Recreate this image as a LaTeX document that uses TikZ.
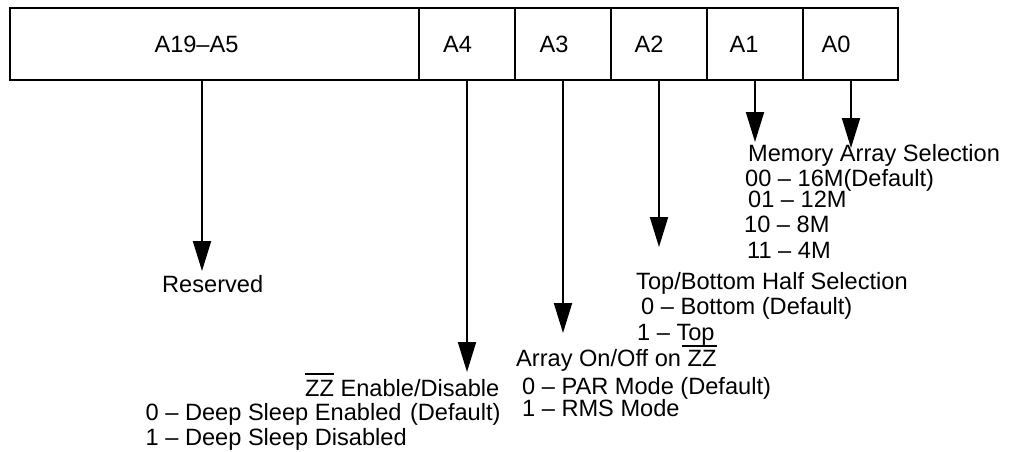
\documentclass[tikz,border=0pt]{standalone}
\usepackage{fontspec}
\setmainfont{Liberation Sans}
\usetikzlibrary{arrows.meta}
\newcommand\zzover[3]{\leavevmode\rlap{\kern#2\rule[#1]{#3}{1.6pt}}ZZ}
\begin{document}
\begin{tikzpicture}[x=1pt,y=-1pt,
  cell/.style={draw,line width=2pt,minimum height=72pt,inner sep=0pt,outer sep=0pt,anchor=north west},
  lbl/.style={inner sep=0pt,font=\fontsize{23.6}{27}\selectfont},
  txt/.style={lbl,anchor=base west},
  arr/.style={line width=2pt,-{Triangle[width=18pt,length=30pt]}}]
\fill[white] (0,0) rectangle (1010,452);
\useasboundingbox (0,0) rectangle (1010,452);
% register cells
\node[cell,minimum width=409pt] (c1) at (10,8) {};
\node[cell,minimum width=96pt] (c2) at (419,8) {};
\node[cell,minimum width=96pt] (c3) at (515,8) {};
\node[cell,minimum width=96pt] (c4) at (611,8) {};
\node[cell,minimum width=96pt] (c5) at (707,8) {};
\node[cell,minimum width=95pt] (c6) at (803,8) {};
% cell labels
\node[lbl,anchor=base] (l1) at (196.5,52.5) {A19–A5};
\node[lbl,anchor=base] (l2) at (457.5,52.5) {A4};
\node[lbl,anchor=base] (l3) at (554,52.5) {A3};
\node[lbl,anchor=base] (l4) at (649,52.5) {A2};
\node[lbl,anchor=base] (l5) at (744,52.5) {A1};
\node[lbl,anchor=base] (l6) at (836,52.5) {A0};
% arrow tips
\coordinate (t1) at (202,271);
\coordinate (t2) at (467,372);
\coordinate (t3) at (563,333);
\coordinate (t4) at (659,247);
\coordinate (t5) at (755,142);
\coordinate (t6) at (851,148);
\draw[arr] (t1 |- c1.south) -- (t1);
\draw[arr] (t2 |- c2.south) -- (t2);
\draw[arr] (t3 |- c3.south) -- (t3);
\draw[arr] (t4 |- c4.south) -- (t4);
\draw[arr] (t5 |- c5.south) -- (t5);
\draw[arr] (t6 |- c6.south) -- (t6);
% Reserved
\node[txt] (r1) at (162,292.7) {Reserved};
% Memory array selection
\node[txt] (m1) at (748,161.5) {Memory Array Selection};
\node[txt] (m2) at (745,186) {00 – 16M(Default)};
\node[txt] (m3) at (748,207.5) {01 – 12M};
\node[txt] (m4) at (744,232) {10 – 8M};
\node[txt] (m5) at (747,258) {11 – 4M};
% Top/Bottom
\node[txt] (h1) at (636,289) {Top/Bottom Half Selection};
\node[txt] (h2) at (641,314) {0 – Bottom (Default)};
\node[txt] (h3) at (637,340.5) {1 – Top};
% Array on/off
\node[txt] (a1) at (516,366.7) {Array On/Off on \zzover{19.9pt}{-6pt}{35pt}};
\node[txt] (a2) at (522,394.5) {0 – PAR Mode (Default)};
\node[txt] (a3) at (522,416.7) {1 – RMS Mode};
% ZZ enable
\node[lbl,anchor=base east] (z1) at (499.5,396) {\zzover{21.2pt}{0pt}{29pt} Enable/Disable};
\node[txt] (z2) at (145.5,420) {0 – Deep Sleep Enabled\ \hspace{2pt}(Default)};
\node[txt] (z3) at (145.5,445) {1 – Deep Sleep Disabled};
\end{tikzpicture}
\end{document}
